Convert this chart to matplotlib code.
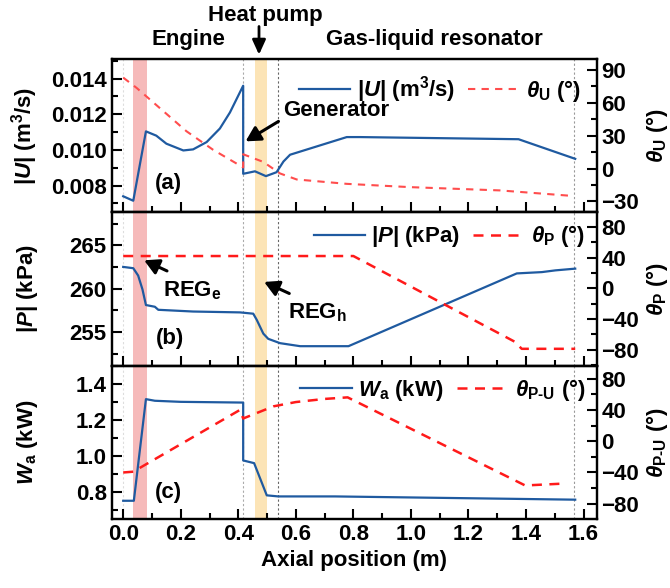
import numpy as np
import matplotlib
matplotlib.use('Agg')
import matplotlib.pyplot as plt
from matplotlib.ticker import MultipleLocator

plt.rcParams['font.family'] = ['Liberation Sans', 'DejaVu Sans']
plt.rcParams['font.weight'] = 'bold'
plt.rcParams['axes.labelweight'] = 'bold'
plt.rcParams['font.size'] = 16
plt.rcParams['mathtext.fontset'] = 'custom'
plt.rcParams['mathtext.rm'] = 'Liberation Sans:bold'
plt.rcParams['mathtext.it'] = 'Liberation Sans:italic:bold'
plt.rcParams['mathtext.bf'] = 'Liberation Sans:bold'

# (a) volume flow rate amplitude and phase
x_U = [0.0, 0.035, 0.079, 0.115, 0.15, 0.209, 0.243, 0.29, 0.336, 0.371, 0.417, 0.417,
       0.458, 0.496, 0.533, 0.557, 0.58, 0.777, 0.823, 1.374, 1.571]
U = [0.0074, 0.00715, 0.01104, 0.0108, 0.01035, 0.00997, 0.01003, 0.01044, 0.0112, 0.0121,
     0.0136, 0.00866, 0.0088, 0.00853, 0.00875, 0.00935, 0.00973, 0.01072, 0.01072, 0.0106, 0.0095]
x_tU = [0.0, 0.047, 0.128, 0.22, 0.313, 0.417, 0.417, 0.487, 0.545, 0.603, 0.777, 0.997, 1.31, 1.56]
tU = [83, 73.5, 55, 34, 17, 1.0, 13, 6, -4.5, -10, -14, -17, -20, -25]

# (b) pressure amplitude and phase
x_P = [0.0, 0.035, 0.052, 0.067, 0.079, 0.11, 0.122, 0.243, 0.406, 0.452, 0.464, 0.487,
       0.504, 0.545, 0.615, 0.783, 1.368, 1.455, 1.502, 1.571]
P = [262.5, 262.35, 261.5, 259.9, 258.1, 257.9, 257.55, 257.35, 257.25, 257.1, 256.4, 254.8,
     254.2, 253.7, 253.35, 253.35, 261.75, 261.9, 262.1, 262.3]
x_tP = [0.0, 0.8, 1.362, 1.385, 1.571]
tP = [42, 42, -70, -79, -79]

# (c) acoustic power and phase difference
x_W = [0.0, 0.037, 0.079, 0.11, 0.2, 0.417, 0.417, 0.455, 0.499, 0.539, 0.736, 1.2, 1.571]
W = [0.753, 0.753, 1.315, 1.306, 1.3, 1.296, 0.976, 0.961, 0.783, 0.777, 0.777, 0.767, 0.759]
x_tPU = [0.0, 0.035, 0.406, 0.417, 0.522, 0.6, 0.7, 0.78, 1.397, 1.542]
tPU = [-40, -39, 40, 29, 44.5, 50, 54, 56, -56.6, -54]

blue = '#1f5aa0'
fs = 16

fig, axes = plt.subplots(3, 1, figsize=(6.7, 5.88), dpi=100, sharex=True)
fig.subplots_adjust(left=0.1667, right=0.8903, top=0.8997, bottom=0.1173, hspace=0)


def style(ax, ax2):
    for a in (ax, ax2):
        for s in a.spines.values():
            s.set_linewidth(1.6)
    ax.tick_params(which='both', direction='in', width=1.5, left=True, right=False,
                   top=False, bottom=True, labelsize=fs)
    ax.tick_params(which='major', length=7)
    ax.tick_params(which='minor', length=4)
    ax2.tick_params(which='both', direction='in', width=1.5, labelsize=fs)
    ax2.tick_params(which='major', length=7)
    ax2.tick_params(which='minor', length=4)
    ax.xaxis.set_major_locator(MultipleLocator(0.2))
    ax.xaxis.set_minor_locator(MultipleLocator(0.1))
    ax.axvspan(0.035, 0.081, color='#f6baba', lw=0, zorder=0)
    ax.axvspan(0.458, 0.501, color='#fce4b6', lw=0, zorder=0)
    ax.axvline(0.0, color='#dddddd', ls=(0, (2, 2)), lw=0.8, zorder=1)
    ax.axvline(0.415, color='#aaaaaa', ls=(0, (2, 2)), lw=0.8, zorder=1)
    ax.axvline(0.539, color='#666666', ls=(0, (2, 2)), lw=0.8, zorder=1)
    ax.axvline(1.568, color='#999999', ls=(0, (2, 2)), lw=0.8, zorder=1)
    ax.yaxis.set_label_coords(-0.148, 0.5)
    ax2.yaxis.set_label_coords(1.098, 0.5)


# panel (a)
ax = axes[0]
ax2 = ax.twinx()
l1, = ax.plot(x_U, U, color=blue, lw=1.6, label=r'|$U$| (m$^3$/s)')
l2, = ax2.plot(x_tU, tU, color='#ff4d4d', lw=1.5, ls=(0, (3.5, 3)), label=r'$\theta_\mathrm{U}$ (°)')
ax.set_ylim(0.0065, 0.0151)
ax.yaxis.set_major_locator(MultipleLocator(0.002))
ax.yaxis.set_minor_locator(MultipleLocator(0.001))
ax.yaxis.set_major_formatter(matplotlib.ticker.FormatStrFormatter('%.3f'))
ax2.set_ylim(-40, 100)
ax2.yaxis.set_major_locator(MultipleLocator(30))
ax2.yaxis.set_minor_locator(MultipleLocator(15))
ax.set_ylabel(r'|$U$| (m$^3$/s)')
ax2.set_ylabel(r'$\theta_\mathrm{U}$ (°)')
style(ax, ax2)
ax2.legend(handles=[l1, l2], loc='upper right', ncol=2, frameon=False, handlelength=2.3,
           handletextpad=0.3, columnspacing=0.6, borderaxespad=0.3, fontsize=fs)
ax.text(0.157, 0.0081, '(a)', ha='center', va='center', fontsize=fs)
ax.text(0.557, 0.01222, 'Generator', ha='left', va='center', fontsize=fs)
ax.annotate('', xy=(0.417, 0.0104), xytext=(0.548, 0.01168),
            arrowprops=dict(arrowstyle='-|>,head_length=0.55,head_width=0.3', lw=2.2, color='k'))
ax.annotate('', xy=(0.472, 1.01), xycoords=('data', 'axes fraction'),
            xytext=(0.472, 1.23), textcoords=('data', 'axes fraction'),
            arrowprops=dict(arrowstyle='-|>,head_length=0.55,head_width=0.25', lw=2, color='k'),
            annotation_clip=False)

# panel (b)
ax = axes[1]
ax2 = ax.twinx()
l1, = ax.plot(x_P, P, color=blue, lw=1.6, label=r'|$P$| (kPa)')
l2, = ax2.plot(x_tP, tP, color='#ff1a1a', lw=1.8, ls=(0, (4, 3)), label=r'$\theta_\mathrm{P}$ (°)')
ax.set_ylim(251.1, 268.8)
ax.yaxis.set_major_locator(MultipleLocator(5))
ax.yaxis.set_minor_locator(MultipleLocator(2.5))
ax2.set_ylim(-101, 99)
ax2.yaxis.set_major_locator(MultipleLocator(40))
ax2.yaxis.set_minor_locator(MultipleLocator(20))
ax.set_ylabel(r'|$P$| (kPa)')
ax2.set_ylabel(r'$\theta_\mathrm{P}$ (°)')
style(ax, ax2)
ax2.legend(handles=[l1, l2], loc='upper right', ncol=2, frameon=False, handlelength=2.3,
           handletextpad=0.3, columnspacing=0.6, borderaxespad=0.1, fontsize=fs)
ax.text(0.162, 254.2, '(b)', ha='center', va='center', fontsize=fs)
ax.text(0.138, 259.7, r'REG$_\mathrm{e}$', ha='left', va='center', fontsize=fs)
ax.annotate('', xy=(0.064, 263.4), xytext=(0.161, 261.9),
            arrowprops=dict(arrowstyle='-|>,head_length=0.55,head_width=0.3', lw=2.2, color='k'))
ax.text(0.573, 257.2, r'REG$_\mathrm{h}$', ha='left', va='center', fontsize=fs)
ax.annotate('', xy=(0.481, 260.9), xytext=(0.586, 259.3),
            arrowprops=dict(arrowstyle='-|>,head_length=0.55,head_width=0.3', lw=2.2, color='k'))

# panel (c)
ax = axes[2]
ax2 = ax.twinx()
l1, = ax.plot(x_W, W, color=blue, lw=1.6, label=r'$W_\mathrm{a}$ (kW)')
l2, = ax2.plot(x_tPU, tPU, color='#ff1a1a', lw=1.8, ls=(0, (4, 3)), label=r'$\theta_{\text{P-U}}$ (°)')
ax.set_ylim(0.652, 1.5)
ax.yaxis.set_major_locator(MultipleLocator(0.2))
ax.yaxis.set_minor_locator(MultipleLocator(0.1))
ax2.set_ylim(-99.5, 96.5)
ax2.yaxis.set_major_locator(MultipleLocator(40))
ax2.yaxis.set_minor_locator(MultipleLocator(20))
ax.set_ylabel(r'$W_\mathrm{a}$ (kW)')
ax2.set_ylabel(r'$\theta_{\text{P-U}}$ (°)')
style(ax, ax2)
ax2.legend(handles=[l1, l2], loc='upper right', ncol=2, frameon=False, handlelength=2.3,
           handletextpad=0.3, columnspacing=0.6, borderaxespad=0.1, fontsize=fs)
ax.text(0.157, 0.797, '(c)', ha='center', va='center', fontsize=fs)
ax.set_xlim(-0.04, 1.645)
ax.set_xlabel('Axial position (m)', fontsize=fs)

fig.text(265 / 670, 1 - 15 / 588, 'Heat pump', ha='center', va='center', fontsize=fs)
fig.text(188 / 670, 1 - 40 / 588, 'Engine', ha='center', va='center', fontsize=fs)
fig.text(434 / 670, 1 - 40 / 588, 'Gas-liquid resonator', ha='center', va='center', fontsize=fs)

fig.savefig('out.png', dpi=100)
